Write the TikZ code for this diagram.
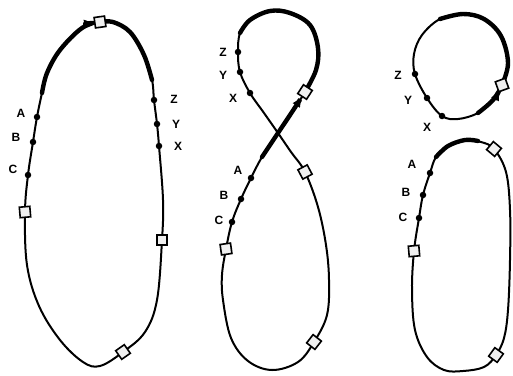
\documentclass[tikz,border=0pt]{standalone}
\usepackage{fontspec}
\setmainfont{Liberation Sans}
\usetikzlibrary{arrows.meta,backgrounds}
\tikzset{
  dot/.style={circle, fill, inner sep=0pt, minimum size=6.5pt},
  stn/.style={draw, line width=1.6pt, fill=black!6, inner sep=0pt, minimum size=10.5pt},
  lbl/.style={font=\bfseries\fontsize{12}{14}\selectfont, inner sep=0pt},
  track/.style={line width=2pt, line join=round},
  heavy/.style={line width=4.4pt, line cap=round},
  runarrow/.style={heavy, -{Latex[length=11pt,width=9pt]}, shorten >=5pt}
}
\begin{document}
\begin{tikzpicture}[x=1pt,y=-1pt]
\useasboundingbox (0,0) rectangle (513,375);

\node[stn, rotate=8] (t1) at (100,22) {};
\node[stn, rotate=5] (w1) at (25,212) {};
\node[stn, rotate=35] (s1) at (123,352) {};
\node[stn] (e1) at (162,240) {};
\node[dot] (a1) at (37,117) {};
\node[dot] (b1) at (33,142) {};
\node[dot] (c1) at (28,175) {};
\node[dot] (z1) at (154,100) {};
\node[dot] (y1) at (157,124) {};
\node[dot] (x1) at (159,146) {};
\node[lbl] (la1) at (21,113) {A};
\node[lbl] (lb1) at (16,137) {B};
\node[lbl] (lc1) at (13,169) {C};
\node[lbl] (lz1) at (174,99) {Z};
\node[lbl] (ly1) at (176,124) {Y};
\node[lbl] (lx1) at (178,146) {X};

\node[stn, rotate=57] (q2) at (305,92) {};
\node[stn, rotate=28] (r2) at (305,172) {};
\node[stn, rotate=8] (w2) at (226,249) {};
\node[stn, rotate=52] (s2) at (314,342) {};
\node[dot] (z2) at (238,52) {};
\node[dot] (y2) at (240,72) {};
\node[dot] (x2) at (250,93) {};
\node[dot] (a2) at (251,178) {};
\node[dot] (b2) at (241,199) {};
\node[dot] (c2) at (232,222) {};
\node[lbl] (lz2) at (223,52) {Z};
\node[lbl] (ly2) at (223,75) {Y};
\node[lbl] (lx2) at (233,98) {X};
\node[lbl] (la2) at (238,170) {A};
\node[lbl] (lb2) at (224,195) {B};
\node[lbl] (lc2) at (219,220) {C};

\node[stn, rotate=20] (q3) at (502,85) {};
\node[stn, rotate=50] (n3) at (494,149) {};
\node[stn, rotate=5] (w3) at (414,251) {};
\node[stn, rotate=54] (s3) at (496,355) {};
\node[dot] (z3) at (415,74) {};
\node[dot] (y3) at (427,98) {};
\node[dot] (x3) at (442,116) {};
\node[dot] (a3) at (430,173) {};
\node[dot] (b3) at (423,195) {};
\node[dot] (c3) at (419,218) {};
\node[lbl] (lz3) at (398,75) {Z};
\node[lbl] (ly3) at (408,100) {Y};
\node[lbl] (lx3) at (427,127) {X};
\node[lbl] (la3) at (412,164) {A};
\node[lbl] (lb3) at (406,192) {B};
\node[lbl] (lc3) at (403,217) {C};

\begin{scope}[on background layer]
\draw[track] plot[smooth cycle, tension=0.6] coordinates {(t1.center) (82,28) (60,50) (47,73) (42,93) (a1.center) (b1.center) (c1.center) (w1.center) (27,265) (39,306) (60,340) (83,362) (100,366) (s1.center) (145,332) (157,300) (e1.center) (163,200) (x1.center) (y1.center) (z1.center) (152,80) (144,55) (130,32) (113,22)};
\draw[runarrow] plot[smooth, tension=0.6] coordinates {(42,93) (47,73) (60,50) (82,28) (t1.center)};
\draw[heavy] plot[smooth, tension=0.6] coordinates {(t1.center) (113,22) (130,32) (144,55) (152,80)};

\draw[track] plot[smooth cycle, tension=0.6] coordinates {(q2.center) (316,70) (318,48) (310,25) (290,13) (270,11) (250,20) (240,33) (z2.center) (y2.center) (x2.center) (264,113) (278,133) (291,152) (r2.center) (318,207) (326,245) (329,280) (327,315) (s2.center) (298,362) (272,370) (248,361) (231,338) (223,300) (222,275) (w2.center) (c2.center) (b2.center) (a2.center) (262,157) (278,133) (292,112)};
\draw[runarrow] plot[smooth, tension=0.6] coordinates {(262,157) (278,133) (292,112) (q2.center)};
\draw[heavy] plot[smooth, tension=0.6] coordinates {(q2.center) (316,70) (318,48) (310,25) (290,13) (270,11) (250,20) (240,33)};

\draw[track] plot[smooth cycle, tension=0.6] coordinates {(q3.center) (508,63) (501,36) (484,19) (463,14) (440,19) (422,35) (414,54) (z3.center) (y3.center) (x3.center) (458,119) (478,113) (493,100)};
\draw[runarrow] plot[smooth, tension=0.6] coordinates {(478,113) (493,100) (q3.center)};
\draw[heavy] plot[smooth, tension=0.6] coordinates {(q3.center) (508,63) (501,36) (484,19) (463,14) (440,19)};

\draw[track] plot[smooth cycle, tension=0.6] coordinates {(436,157) (448,146) (465,140) (481,142) (n3.center) (506,172) (510,210) (510,260) (508,310) (504,338) (s3.center) (484,367) (463,371) (444,370) (427,357) (415,330) (412,290) (w3.center) (c3.center) (b3.center) (a3.center)};
\draw[heavy] plot[smooth, tension=0.6] coordinates {(436,157) (448,146) (465,140) (478,141)};
\end{scope}
\end{tikzpicture}
\end{document}
